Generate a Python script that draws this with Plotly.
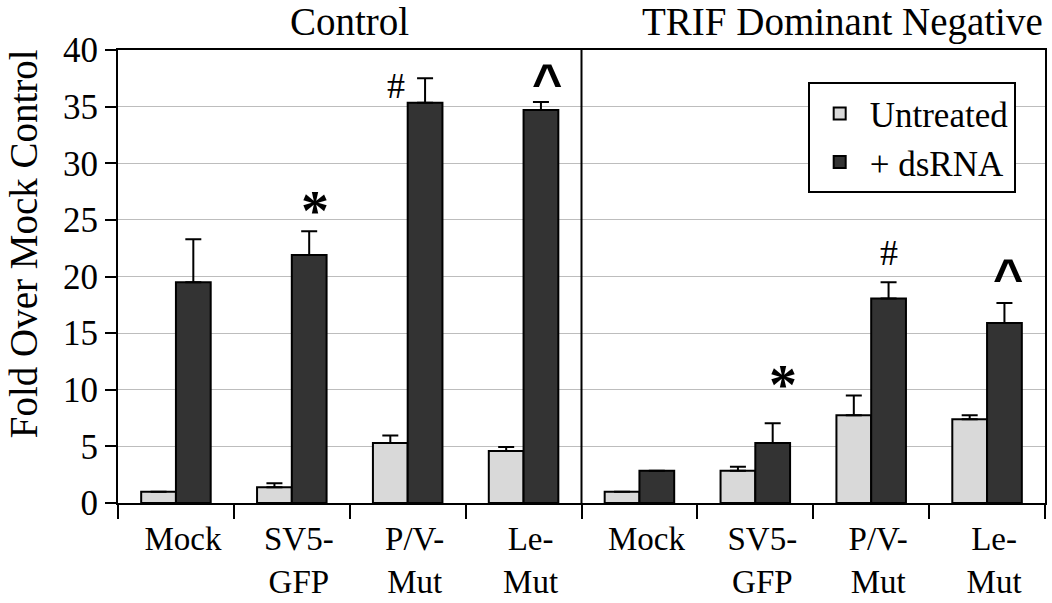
import plotly.graph_objects as go

# ---- data ----
categories = ["Mock", "SV5-<br>GFP", "P/V-<br>Mut", "Le-<br>Mut",
              "Mock", "SV5-<br>GFP", "P/V-<br>Mut", "Le-<br>Mut"]
untreated = [1.0, 1.4, 5.3, 4.6, 1.0, 2.85, 7.75, 7.4]
untreated_err = [None, 0.35, 0.65, 0.35, None, 0.35, 1.75, 0.35]
dsrna = [19.5, 21.9, 35.35, 34.7, 2.85, 5.3, 18.05, 15.9]
dsrna_err = [3.8, 2.1, 2.15, 0.7, None, 1.75, 1.45, 1.75]
panel_titles = ["Control", "TRIF Dominant Negative"]
y_ticks = [0, 5, 10, 15, 20, 25, 30, 35, 40]
# significance marks: (text, x position in category units, y value)
marks = [("*", 1.2, 25.8), ("#", 1.9, 36.8), ("^", 3.2, 37.15),
         ("*", 5.24, 10.4), ("#", 6.15, 22.1), ("^", 7.18, 20.0)]

xpos = list(range(len(categories)))
FONT = "Liberation Serif"

fig = go.Figure()
fig.add_trace(go.Bar(
    x=xpos, y=untreated, name="Untreated",
    marker=dict(color="#d9d9d9", line=dict(color="black", width=2)),
    error_y=dict(type="data", array=untreated_err, arrayminus=[0] * 8,
                 symmetric=False, color="black", thickness=2, width=8),
))
fig.add_trace(go.Bar(
    x=xpos, y=dsrna, name="+ dsRNA",
    marker=dict(color="#333333", line=dict(color="black", width=2)),
    error_y=dict(type="data", array=dsrna_err, arrayminus=[0] * 8,
                 symmetric=False, color="black", thickness=2, width=8),
))

annotations = []
for text, x, y in marks:
    if text == "*":
        t = "<b>*</b>"
        f = dict(family=FONT, size=56, color="black")
    elif text == "^":
        t = "<b>^</b>"
        f = dict(family="Liberation Sans", size=52, color="black")
    else:
        t = text
        f = dict(family=FONT, size=36, color="black")
    annotations.append(dict(x=x, y=y, xref="x", yref="y", text=t,
                            showarrow=False, font=f, xanchor="center", yanchor="middle"))

annotations.append(dict(x=1.5, y=1.062, xref="x", yref="paper", text=panel_titles[0],
                        showarrow=False, xanchor="center", yanchor="middle",
                        font=dict(family=FONT, size=39, color="black")))
annotations.append(dict(x=7.5, y=1.062, xref="x", yref="paper", text=panel_titles[1],
                        showarrow=False, xanchor="right", yanchor="middle",
                        font=dict(family=FONT, size=39, color="black")))
annotations.append(dict(x=-0.101, y=0.572, xref="paper", yref="paper",
                        text="Fold Over Mock Control", textangle=-90,
                        showarrow=False, xanchor="center", yanchor="middle",
                        font=dict(family=FONT, size=39, color="black")))

fig.update_layout(
    width=1052, height=603,
    margin=dict(l=118, r=7, t=50, b=100, autoexpand=False),
    paper_bgcolor="white", plot_bgcolor="white",
    barmode="group", bargap=0.4, bargroupgap=0,
    font=dict(family=FONT, size=35, color="black"),
    showlegend=True,
    legend=dict(x=0.744, y=0.929, xanchor="left", yanchor="top",
                bgcolor="white", bordercolor="black", borderwidth=2,
                font=dict(family=FONT, size=35, color="black"),
                itemwidth=50, tracegroupgap=0),
    annotations=annotations,
    shapes=[dict(type="line", xref="x", yref="paper", x0=3.5, x1=3.5, y0=0, y1=1,
                 line=dict(color="black", width=2))],
)
fig.update_xaxes(
    range=[-0.5, 7.5], tickmode="array", tickvals=xpos, ticktext=categories,
    ticks="", showline=True, linecolor="black", linewidth=2, mirror=True,
    showgrid=False, zeroline=False, automargin=False,
    ticklabelstandoff=5, ticklabelshift=7,
    tickfont=dict(family=FONT, size=33, color="black"),
    minor=dict(tickmode="array", tickvals=[p - 0.5 for p in xpos] + [xpos[-1] + 0.5],
               ticks="outside", ticklen=14, tickwidth=2, tickcolor="black", showgrid=False),
)
fig.update_yaxes(
    range=[0, 40], tickmode="array", tickvals=y_ticks,
    ticks="outside", ticklen=11, tickwidth=2, tickcolor="black",
    showline=True, linecolor="black", linewidth=2, mirror=True,
    showgrid=True, gridcolor="#bdbdbd", gridwidth=1, zeroline=False, automargin=False,
    tickfont=dict(family=FONT, size=35, color="black"),
)

# remove the browser's default 8px body margin so the figure fills the window exactly
fig.write_html("out.html", config={"displayModeBar": False},
               post_script="document.body.style.margin='0px';")
